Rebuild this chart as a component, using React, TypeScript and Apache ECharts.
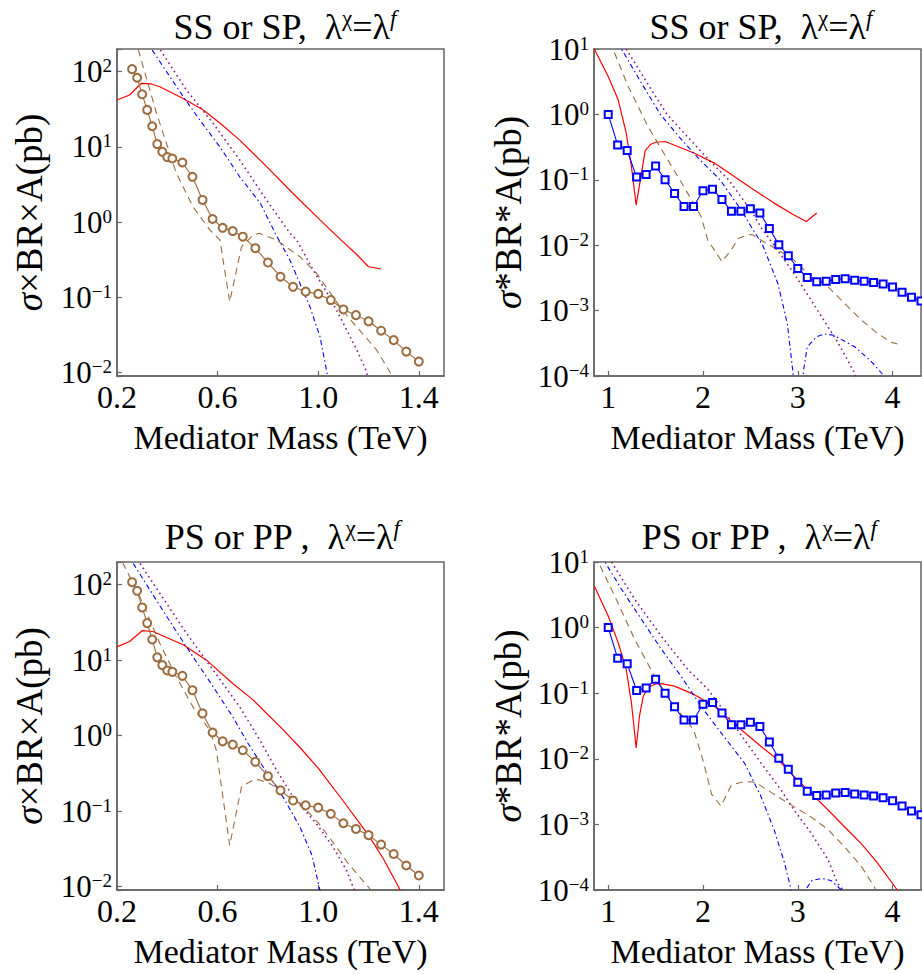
import React, { useEffect, useRef } from 'react';
import * as echarts from 'echarts';

const FONT = '"Liberation Serif", "Times New Roman", Times, serif';

// ---------- tick values ----------
const lowMassTicks = [0.2, 0.6, 1.0, 1.4];
const highMassTicks = [1, 2, 3, 4];

// ---------- experimental limits ----------
const lowMassX = [0.26, 0.28, 0.30, 0.32, 0.34, 0.36, 0.38, 0.40, 0.42, 0.46, 0.50, 0.54, 0.58, 0.62, 0.66, 0.70,
  0.75, 0.80, 0.85, 0.90, 0.95, 1.00, 1.05, 1.10, 1.15, 1.20, 1.25, 1.30, 1.35, 1.40];
const lowMassLimit = [108, 83, 50, 31, 18.8, 10.9, 8.6, 7.3, 7.0, 6.2, 4.0, 1.97, 1.1, 0.84, 0.76, 0.64,
  0.45, 0.29, 0.188, 0.138, 0.119, 0.111, 0.092, 0.069, 0.058, 0.048, 0.036, 0.027, 0.019, 0.014];

const highMassX = [1.0, 1.1, 1.2, 1.3, 1.4, 1.5, 1.6, 1.7, 1.8, 1.9, 2.0, 2.1, 2.2, 2.3, 2.4, 2.5, 2.6, 2.7,
  2.8, 2.9, 3.0, 3.1, 3.2, 3.3, 3.4, 3.5, 3.6, 3.7, 3.8, 3.9, 4.0, 4.1, 4.2, 4.3];
const highMassLimit = [1.0, 0.34, 0.28, 0.11, 0.12, 0.163, 0.10, 0.062, 0.039, 0.039, 0.068, 0.072, 0.05, 0.033,
  0.033, 0.036, 0.031, 0.018, 0.0102, 0.0069, 0.0044, 0.0032, 0.00275, 0.0028, 0.0030, 0.00307, 0.0029, 0.0028,
  0.0027, 0.00255, 0.0023, 0.0019, 0.0016, 0.0014];

// ---------- SS / SP, low mass ----------
const ssLowRed = [[0.2, 42], [0.25, 49], [0.297, 70], [0.337, 68.6], [0.37, 63], [0.463, 44], [0.543, 31],
  [0.61, 20.6], [0.688, 12.3], [0.794, 5.5], [0.9, 2.4], [1.007, 1.07], [1.09, 0.58], [1.15, 0.38], [1.2, 0.255],
  [1.25, 0.238]];
const ssLowBrown = [[0.26, 400], [0.284, 200], [0.357, 28], [0.436, 4.46], [0.502, 1.6], [0.569, 0.79],
  [0.609, 0.58], [0.648, 0.0875], [0.695, 0.47], [0.741, 0.67], [0.765, 0.71], [0.834, 0.58], [0.86, 0.5],
  [0.927, 0.347], [0.993, 0.209], [1.06, 0.10], [1.1, 0.065], [1.16, 0.038], [1.232, 0.02], [1.285, 0.0102],
  [1.3, 0.008]];
const ssLowBlue = [[0.31, 400], [0.337, 200], [0.463, 46.6], [0.529, 22.8], [0.609, 10], [0.688, 4.0],
  [0.77, 1.78], [0.83, 0.70], [0.888, 0.31], [0.927, 0.153], [0.967, 0.075], [1.007, 0.030], [1.033, 0.0107],
  [1.04, 0.008]];
const ssLowPurple = [[0.34, 400], [0.37, 200], [0.476, 57], [0.582, 20.6], [0.688, 6.7], [0.794, 1.97],
  [0.888, 0.71], [0.914, 0.58], [0.98, 0.23], [1.046, 0.10], [1.1, 0.045], [1.153, 0.02], [1.19, 0.0107],
  [1.2, 0.008]];

// ---------- PS / PP, low mass ----------
const psLowRed = [[0.2, 15], [0.25, 17.7], [0.301, 24.7], [0.343, 24], [0.463, 16], [0.556, 10], [0.66, 4.9],
  [0.74, 3.0], [0.86, 1.2], [0.93, 0.68], [1.0, 0.37], [1.1, 0.135], [1.2, 0.048], [1.26, 0.023], [1.32, 0.0098],
  [1.34, 0.007]];
const psLowBrown = [[0.2, 400], [0.221, 200], [0.29, 70], [0.37, 16.8], [0.436, 6.0], [0.502, 2.4], [0.569, 1.18],
  [0.595, 0.64], [0.648, 0.035], [0.695, 0.21], [0.741, 0.257], [0.765, 0.26], [0.808, 0.23], [0.874, 0.17],
  [0.94, 0.115], [1.0, 0.07], [1.06, 0.038], [1.12, 0.02], [1.2, 0.0098], [1.22, 0.008]];
const psLowBlue = [[0.24, 400], [0.261, 200], [0.33, 86], [0.423, 28], [0.502, 11.1], [0.582, 4.46], [0.66, 1.78],
  [0.72, 0.80], [0.794, 0.33], [0.86, 0.154], [0.927, 0.062], [0.975, 0.026], [1.004, 0.0098], [1.01, 0.008]];
const psLowPurple = [[0.27, 400], [0.288, 200], [0.37, 77], [0.476, 22.8], [0.582, 7.4], [0.688, 2.4],
  [0.768, 0.87], [0.834, 0.35], [0.9, 0.154], [0.993, 0.068], [1.06, 0.033], [1.113, 0.0163], [1.139, 0.0098],
  [1.15, 0.008]];

// ---------- SS / SP, high mass ----------
const ssHighRed = [[0.853, 10], [1.0, 3.8], [1.105, 1.67], [1.19, 0.52], [1.245, 0.16], [1.295, 0.041],
  [1.39, 0.28], [1.45, 0.35], [1.5, 0.375], [1.6, 0.385], [1.74, 0.32], [1.91, 0.255], [2.12, 0.18], [2.33, 0.112],
  [2.54, 0.07], [2.75, 0.044], [2.96, 0.029], [3.09, 0.023], [3.2, 0.031]];
const ssHighBrown = [[1.0, 20], [1.05, 10], [1.21, 2.7], [1.42, 0.65], [1.63, 0.2], [1.84, 0.062], [1.98, 0.0275],
  [2.05, 0.012], [2.2, 0.0056], [2.3, 0.0085], [2.37, 0.0127], [2.47, 0.0144], [2.52, 0.0145], [2.61, 0.012],
  [2.79, 0.0085], [2.96, 0.0059], [3.14, 0.0033], [3.32, 0.0023], [3.49, 0.0013], [3.67, 0.00072], [3.84, 0.00045],
  [3.98, 0.00033], [4.05, 0.00031]];
const ssHighBlue = [[1.1, 20], [1.14, 10], [1.34, 3.2], [1.55, 1.0], [1.75, 0.45], [1.97, 0.2], [2.18, 0.1],
  [2.4, 0.035], [2.52, 0.018], [2.63, 0.01], [2.79, 0.0026], [2.89, 0.00063], [2.95, 0.00011], [2.99, 0.00002],
  [3.03, 0.00002], [3.06, 0.00012], [3.1, 0.00028], [3.2, 0.0004], [3.28, 0.00044], [3.38, 0.00042], [3.6, 0.00028],
  [3.77, 0.00017], [3.91, 0.0001], [3.95, 0.00008]];
const ssHighPurple = [[1.15, 20], [1.19, 10], [1.4, 3.2], [1.62, 1.0], [1.84, 0.45], [2.05, 0.21], [2.27, 0.1],
  [2.5, 0.035], [2.62, 0.018], [2.75, 0.01], [2.96, 0.0037], [3.14, 0.00145], [3.32, 0.00056], [3.42, 0.00033],
  [3.53, 0.00017], [3.6, 0.00011], [3.63, 0.00008]];

// ---------- PS / PP, high mass ----------
const psHighRed = [[0.853, 4.3], [1.0, 1.5], [1.105, 0.59], [1.19, 0.23], [1.245, 0.071], [1.295, 0.0146],
  [1.33, 0.045], [1.37, 0.09], [1.42, 0.122], [1.5, 0.138], [1.56, 0.14], [1.7, 0.128], [1.91, 0.095], [2.12, 0.063],
  [2.26, 0.042], [2.4, 0.028], [2.61, 0.0155], [2.79, 0.0097], [2.96, 0.0054], [3.14, 0.003], [3.32, 0.00166],
  [3.49, 0.00093], [3.67, 0.00051], [3.84, 0.00026], [4.05, 0.0001], [4.1, 0.00008]];
const psHighBrown = [[0.87, 20], [0.895, 10], [1.07, 3.0], [1.28, 0.66], [1.49, 0.18], [1.7, 0.063], [1.9, 0.028],
  [2.0, 0.0095], [2.09, 0.0029], [2.19, 0.0019], [2.3, 0.004], [2.44, 0.0045], [2.55, 0.0044], [2.73, 0.003],
  [2.9, 0.0021], [3.14, 0.0013], [3.32, 0.00083], [3.49, 0.00046], [3.67, 0.00023], [3.81, 0.00011], [3.85, 0.00008]];
const psHighBlue = [[0.94, 20], [0.965, 10], [1.14, 3.85], [1.35, 1.34], [1.56, 0.47], [1.77, 0.18], [1.98, 0.063],
  [2.12, 0.034], [2.23, 0.021], [2.44, 0.0085], [2.61, 0.0027], [2.75, 0.00083], [2.86, 0.00026], [2.93, 0.0001],
  [2.97, 0.00002], [3.02, 0.00002], [3.08, 0.0001], [3.15, 0.00014], [3.25, 0.00015], [3.35, 0.00014], [3.46, 0.0001],
  [3.5, 0.00009]];
const psHighPurple = [[1.0, 20], [1.035, 10], [1.28, 2.7], [1.56, 0.74], [1.84, 0.23], [2.05, 0.115], [2.26, 0.045],
  [2.36, 0.028], [2.61, 0.0087], [2.82, 0.0034], [2.96, 0.00166], [3.14, 0.00074], [3.32, 0.00029], [3.42, 0.000126],
  [3.48, 0.0001], [3.52, 0.00008]];

// ---------- text ----------
const titleSS = 'SS or SP,  λ{sup|χ}=λ{supi|f}';
const titlePS = 'PS or PP ,  λ{sup|χ}=λ{supi|f}';
const xName = 'Mediator Mass (TeV)';
const yNameLow = '{i|σ}×BR×A(pb)';
const yNameHigh = '{i|σ}*BR*A(pb)';

const RED = '#ff0000';
const BROWN = '#9c6b3e';
const BLUE = '#0000ff';
const PURPLE = '#8a1a8a';
const FRAME = '#666666';

const grids = [
  { left: 117, top: 49, width: 327, height: 327 },
  { left: 594, top: 49, width: 327, height: 327 },
  { left: 117, top: 562, width: 327, height: 328 },
  { left: 594, top: 562, width: 327, height: 328 },
];

function logLabel(v: number): string {
  const e = Math.log10(v);
  const r = Math.round(e);
  if (Math.abs(e - r) > 1e-6) return '';
  const ex = r < 0 ? '−' + (-r) : String(r);
  return '{b|10}{s|' + ex + '}';
}

export default function App() {
  const ref = useRef<HTMLDivElement>(null);
  useEffect(() => {
    if (!ref.current) return;
    const chart = echarts.init(ref.current, undefined, { renderer: 'svg' });

    const xAxes = grids.map((_, i) => {
      const low = i % 2 === 0;
      const ticks = low ? lowMassTicks : highMassTicks;
      return {
        type: 'value',
        gridIndex: i,
        min: low ? 0.2 : 0.85,
        max: low ? 1.5 : 4.3,
        name: xName,
        nameLocation: 'middle',
        nameGap: 44,
        nameTextStyle: { fontFamily: FONT, fontSize: 34, color: '#000' },
        axisLine: { show: true, lineStyle: { color: FRAME, width: 1.5 } },
        axisTick: { show: true, inside: true, length: 5, customValues: ticks, lineStyle: { color: FRAME, width: 1.2 } },
        axisLabel: {
          show: true,
          customValues: ticks,
          margin: 5,
          fontFamily: FONT,
          fontSize: 32,
          color: '#000',
          formatter: (v: number) => (low ? v.toFixed(1) : String(Math.round(v))),
        },
        splitLine: { show: false },
      };
    });

    const yAxes = grids.map((_, i) => {
      const low = i % 2 === 0;
      return {
        type: 'log',
        logBase: 10,
        gridIndex: i,
        min: low ? 0.009 : 1e-4,
        max: low ? 200 : 10,
        name: low ? yNameLow : yNameHigh,
        nameLocation: 'middle',
        nameRotate: 90,
        nameGap: low ? 69 : 67,
        nameTextStyle: {
          fontFamily: FONT, fontSize: 37, color: '#000',
          rich: { i: { fontFamily: FONT, fontSize: 37, fontStyle: 'italic', color: '#000' } },
        },
        axisLine: { show: true, lineStyle: { color: FRAME, width: 1.5 } },
        axisTick: { show: true, inside: true, length: 5, lineStyle: { color: FRAME, width: 1.2 } },
        minorTick: { show: false },
        axisLabel: {
          show: true,
          margin: 5,
          formatter: logLabel,
          rich: {
            b: { fontFamily: FONT, fontSize: 31, color: '#000', lineHeight: 31 },
            s: { fontFamily: FONT, fontSize: 19, color: '#000', lineHeight: 18, verticalAlign: 'top' },
          },
        },
        splitLine: { show: false },
      };
    });

    const titleRich = {
      sup: { fontFamily: FONT, fontSize: 23, color: '#000', lineHeight: 22, verticalAlign: 'top' },
      supi: { fontFamily: FONT, fontSize: 23, fontStyle: 'italic', color: '#000', lineHeight: 22, verticalAlign: 'top' },
    };
    const mkTitle = (text: string, cx: number, top: number) => ({
      text,
      left: cx,
      top,
      textAlign: 'center',
      textStyle: { fontFamily: FONT, fontSize: 36, fontWeight: 'normal', color: '#000', lineHeight: 40, rich: titleRich },
    });

    const curve = (data: number[][], color: string, type: any, width: number, idx: number) => ({
      type: 'line',
      xAxisIndex: idx,
      yAxisIndex: idx,
      data,
      symbol: 'none',
      showSymbol: false,
      clip: true,
      silent: true,
      lineStyle: { color, width, type },
      z: 2,
    });
    const limit = (xs: number[], ys: number[], color: string, symbol: string, size: number, idx: number) => ({
      type: 'line',
      xAxisIndex: idx,
      yAxisIndex: idx,
      data: xs.map((x, k) => [x, ys[k]]),
      symbol,
      symbolSize: size,
      showSymbol: true,
      clip: true,
      silent: true,
      itemStyle: { color, borderColor: color, borderWidth: 0.9 },
      lineStyle: { color, width: 1.1 },
      z: 5,
    });

    const DASH = [7, 5];
    const DASHDOT = [5, 3, 1.5, 3];
    const DOT = [1.6, 3.4];

    const series = [
      curve(ssLowRed, RED, 'solid', 1.2, 0),
      curve(ssLowBrown, BROWN, DASH, 1.1, 0),
      curve(ssLowBlue, BLUE, DASHDOT, 1.1, 0),
      curve(ssLowPurple, PURPLE, DOT, 1.6, 0),
      limit(lowMassX, lowMassLimit, BROWN, 'emptyCircle', 8, 0),

      curve(ssHighRed, RED, 'solid', 1.2, 1),
      curve(ssHighBrown, BROWN, DASH, 1.1, 1),
      curve(ssHighBlue, BLUE, DASHDOT, 1.1, 1),
      curve(ssHighPurple, PURPLE, DOT, 1.6, 1),
      limit(highMassX, highMassLimit, BLUE, 'emptyRect', 7, 1),

      curve(psLowRed, RED, 'solid', 1.2, 2),
      curve(psLowBrown, BROWN, DASH, 1.1, 2),
      curve(psLowBlue, BLUE, DASHDOT, 1.1, 2),
      curve(psLowPurple, PURPLE, DOT, 1.6, 2),
      limit(lowMassX, lowMassLimit, BROWN, 'emptyCircle', 8, 2),

      curve(psHighRed, RED, 'solid', 1.2, 3),
      curve(psHighBrown, BROWN, DASH, 1.1, 3),
      curve(psHighBlue, BLUE, DASHDOT, 1.1, 3),
      curve(psHighPurple, PURPLE, DOT, 1.6, 3),
      limit(highMassX, highMassLimit, BLUE, 'emptyRect', 7, 3),
    ];

    chart.setOption({
      animation: false,
      backgroundColor: '#ffffff',
      title: [
        mkTitle(titleSS, 280, 2),
        mkTitle(titleSS, 756, 2),
        mkTitle(titlePS, 277, 512),
        mkTitle(titlePS, 754, 512),
      ],
      grid: grids.map((g) => ({
        ...g,
        show: true,
        borderColor: FRAME,
        borderWidth: 1.5,
        backgroundColor: 'transparent',
        containLabel: false,
        outerBoundsMode: 'none',
      })),
      xAxis: xAxes,
      yAxis: yAxes,
      series,
    } as any);

    return () => chart.dispose();
  }, []);

  return (
    <div
      ref={ref}
      style={{ position: 'absolute', left: 0, top: 0, width: 922, height: 974, background: '#fff' }}
    />
  );
}
